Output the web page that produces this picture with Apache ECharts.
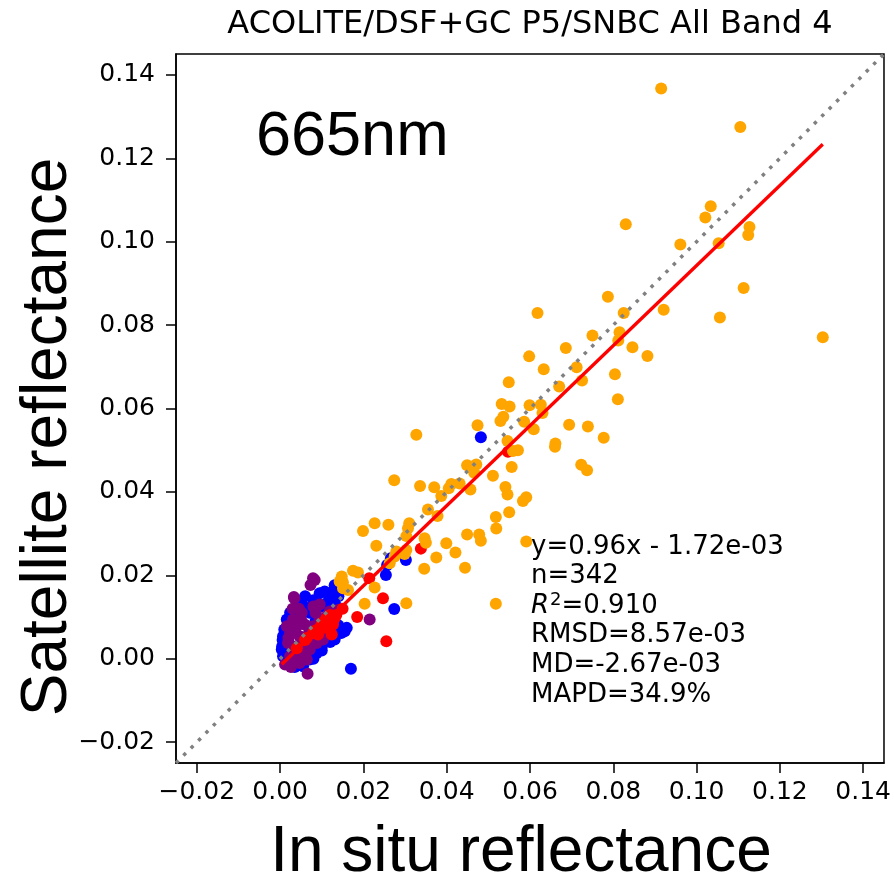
<!DOCTYPE html>
<html>
<head>
<meta charset="utf-8">
<script src="https://cdn.jsdelivr.net/npm/echarts@6/dist/echarts.min.js"></script>
<style>
  html, body { margin: 0; padding: 0; background: #fff; }
  #chart { width: 894px; height: 881px; }
</style>
</head>
<body>
<div id="chart"></div>
<script>
// in situ (x) vs satellite (y) reflectance, one array per colour group
const orangePoints = [
  [0.0915, 0.1367], [0.1105, 0.1275], [0.1034, 0.1085], [0.1021, 0.1058], [0.0830, 0.1042],
  [0.1127, 0.1035], [0.1124, 0.1016], [0.0961, 0.0993], [0.1053, 0.0996], [0.1113, 0.0889],
  [0.0787, 0.0868], [0.0825, 0.0829], [0.0921, 0.0837], [0.1056, 0.0818], [0.1303, 0.0771],
  [0.0750, 0.0775], [0.0815, 0.0783], [0.0812, 0.0763], [0.0846, 0.0747], [0.0882, 0.0726],
  [0.0686, 0.0745], [0.0618, 0.0829], [0.0598, 0.0725], [0.0633, 0.0694], [0.0712, 0.0699],
  [0.0725, 0.0667], [0.0670, 0.0653], [0.0549, 0.0663], [0.0804, 0.0682], [0.0811, 0.0622],
  [0.0532, 0.0611], [0.0551, 0.0605], [0.0599, 0.0608], [0.0626, 0.0609], [0.0630, 0.0589],
  [0.0536, 0.0580], [0.0529, 0.0570], [0.0586, 0.0568], [0.0609, 0.0550], [0.0694, 0.0561],
  [0.0739, 0.0557], [0.0777, 0.0530], [0.0474, 0.0560], [0.0546, 0.0522], [0.0661, 0.0516],
  [0.0660, 0.0508], [0.0559, 0.0498], [0.0571, 0.0500], [0.0556, 0.0460], [0.0723, 0.0465],
  [0.0737, 0.0452], [0.0471, 0.0466], [0.0511, 0.0439], [0.0541, 0.0412], [0.0327, 0.0537],
  [0.0449, 0.0464], [0.0466, 0.0446], [0.0457, 0.0406], [0.0274, 0.0428], [0.0336, 0.0414],
  [0.0370, 0.0411], [0.0387, 0.0390], [0.0405, 0.0409], [0.0411, 0.0419], [0.0431, 0.0420],
  [0.0546, 0.0394], [0.0583, 0.0378], [0.0591, 0.0387], [0.0550, 0.0351], [0.0518, 0.0340],
  [0.0519, 0.0312], [0.0355, 0.0358], [0.0378, 0.0342], [0.0449, 0.0298], [0.0478, 0.0298],
  [0.0482, 0.0283], [0.0591, 0.0281], [0.0199, 0.0306], [0.0227, 0.0325], [0.0260, 0.0321],
  [0.0310, 0.0325], [0.0307, 0.0313], [0.0303, 0.0294], [0.0347, 0.0289], [0.0350, 0.0278],
  [0.0231, 0.0271], [0.0399, 0.0277], [0.0421, 0.0255], [0.0375, 0.0243], [0.0444, 0.0218],
  [0.0346, 0.0216], [0.0303, 0.0261], [0.0299, 0.0251], [0.0279, 0.0257], [0.0275, 0.0245],
  [0.0263, 0.0229], [0.0175, 0.0211], [0.0187, 0.0207], [0.0148, 0.0197], [0.0151, 0.0183],
  [0.0143, 0.0185], [0.0151, 0.0169], [0.0163, 0.0165], [0.0227, 0.0171], [0.0203, 0.0132],
  [0.0303, 0.0133], [0.0518, 0.0132]
];
const bluePoints = [
  [0.0482, 0.0531], [0.0266, 0.0241], [0.0302, 0.0237], [0.0257, 0.0225], [0.0254, 0.0201],
  [0.0131, 0.0176], [0.0119, 0.0146], [0.0274, 0.0119], [0.0170, -0.0024], [0.0155, 0.0066],
  [0.0148, 0.0062], [0.0160, 0.0074], [0.0151, 0.0070], [0.0118, 0.0141], [0.0058, 0.0124],
  [0.0095, 0.0124], [0.0135, 0.0125], [0.0055, 0.0125], [0.0112, 0.0133], [0.0071, 0.0110],
  [0.0131, 0.0046], [0.0007, 0.0054], [0.0005, 0.0030], [0.0007, 0.0006], [0.0024, -0.0010],
  [0.0055, -0.0018], [0.0071, -0.0002], [0.0088, 0.0014], [0.0040, -0.0002], [0.0143, 0.0062],
  [0.0016, 0.0094], [0.0024, 0.0110], [0.0095, 0.0157], [0.0107, 0.0161], [0.0004, 0.0022],
  [0.0030, 0.0102], [0.0045, 0.0130], [0.0085, 0.0090], [0.0105, 0.0060], [0.0120, 0.0100],
  [0.0020, 0.0040], [0.0035, 0.0070], [0.0100, 0.0030], [0.0065, 0.0045], [0.0013, 0.0012],
  [0.0010, 0.0070], [0.0006, 0.0045], [0.0015, -0.0005], [0.0035, -0.0020], [0.0080, 0.0000],
  [0.0100, 0.0020], [0.0120, 0.0040], [0.0140, 0.0080], [0.0060, 0.0150], [0.0080, 0.0140],
  [0.0125, 0.0160], [0.0140, 0.0150]
];
const purplePoints = [
  [0.0083, 0.0189], [0.0079, 0.0193], [0.0073, 0.0177], [0.0034, 0.0145], [0.0033, 0.0148],
  [0.0215, 0.0094], [0.0066, -0.0036], [0.0031, 0.0094], [0.0040, 0.0078], [0.0024, 0.0062],
  [0.0019, 0.0038], [0.0031, 0.0018], [0.0036, -0.0002], [0.0055, 0.0014], [0.0071, 0.0022],
  [0.0088, 0.0038], [0.0103, 0.0046], [0.0047, 0.0054], [0.0079, 0.0078], [0.0095, 0.0094],
  [0.0059, 0.0082], [0.0016, 0.0078], [0.0052, 0.0110], [0.0103, 0.0070], [0.0067, 0.0034],
  [0.0024, 0.0006], [0.0047, -0.0010], [0.0012, -0.0014], [0.0064, -0.0002], [0.0119, 0.0113],
  [0.0139, 0.0117], [0.0085, 0.0110], [0.0110, 0.0100], [0.0040, 0.0030], [0.0030, 0.0120],
  [0.0050, 0.0095], [0.0070, 0.0065], [0.0090, 0.0050], [0.0020, 0.0050], [0.0030, 0.0000],
  [0.0060, 0.0010], [0.0110, 0.0060], [0.0080, 0.0125], [0.0095, 0.0130], [0.0045, 0.0120],
  [0.0026, -0.0020], [0.0055, 0.0040]
];
const redPoints = [
  [0.0338, 0.0264], [0.0214, 0.0193], [0.0247, 0.0145], [0.0185, 0.0100], [0.0255, 0.0042],
  [0.0547, 0.0496], [0.0115, 0.0089], [0.0107, 0.0074], [0.0127, 0.0082], [0.0124, 0.0058],
  [0.0079, 0.0062], [0.0064, 0.0050], [0.0095, 0.0074], [0.0091, 0.0058], [0.0110, 0.0095],
  [0.0120, 0.0105], [0.0100, 0.0085], [0.0130, 0.0095], [0.0060, 0.0045], [0.0085, 0.0068],
  [0.0105, 0.0080], [0.0118, 0.0092], [0.0135, 0.0105], [0.0040, 0.0025], [0.0150, 0.0120]
];

// regression fit and stats printed on the plot
const fitSlope = 0.96;
const fitIntercept = -0.00172;
const statLines = [
  'y=0.96x - 1.72e-03',
  'n=342',
  '{i|R}{sup|2}=0.910',
  'RMSD=8.57e-03',
  'MD=-2.67e-03',
  'MAPD=34.9%'
];

const axisMin = -0.025;
const axisMax = 0.145;
const tickValues = [-0.02, 0.00, 0.02, 0.04, 0.06, 0.08, 0.10, 0.12, 0.14];

const allX = [].concat(orangePoints, bluePoints, purplePoints, redPoints).map(p => p[0]);
const fitX0 = Math.min.apply(null, allX);
const fitX1 = Math.max.apply(null, allX);
const fitLine = [[fitX0, fitSlope * fitX0 + fitIntercept], [fitX1, fitSlope * fitX1 + fitIntercept]];

const tickFmt = v => (v < -1e-9 ? '\u2212' : '') + Math.abs(v).toFixed(2);
const TICK_FONT = 'DejaVu Sans';

function makeAxis(isX) {
  return {
    type: 'value',
    min: axisMin,
    max: axisMax,
    axisLine: { show: true, onZero: false, lineStyle: { color: '#000', width: 1.5 } },
    axisTick: { show: true, customValues: tickValues, length: 10, lineStyle: { color: '#000', width: 1.5 } },
    axisLabel: {
      show: true,
      customValues: tickValues,
      formatter: tickFmt,
      color: '#000',
      fontSize: 25,
      fontFamily: TICK_FONT,
      margin: isX ? 17 : 21
    },
    splitLine: { show: false }
  };
}

function scatter(name, data, color) {
  return {
    name: name,
    type: 'scatter',
    data: data,
    symbolSize: 12,
    itemStyle: { color: color, opacity: 1 },
    silent: true
  };
}

const chart = echarts.init(document.getElementById('chart'), null, { renderer: 'canvas' });

chart.setOption({
  animation: false,
  backgroundColor: '#fff',
  grid: { left: 176, top: 54, width: 709, height: 709, show: true, borderColor: '#000', borderWidth: 1.5 },
  xAxis: makeAxis(true),
  yAxis: makeAxis(false),
  series: [
    scatter('blue', bluePoints, '#0000ff'),
    scatter('purple', purplePoints, '#800080'),
    scatter('red', redPoints, '#ff0000'),
    scatter('orange', orangePoints, '#ffa500'),
    {
      name: '1:1',
      type: 'line',
      data: [[axisMin, axisMin], [axisMax, axisMax]],
      showSymbol: false,
      lineStyle: { color: '#808080', width: 3.5, type: [3.5, 7] },
      silent: true
    },
    {
      name: 'fit',
      type: 'line',
      data: fitLine,
      showSymbol: false,
      lineStyle: { color: '#ff0000', width: 3.3 },
      silent: true
    }
  ],
  graphic: [
    {
      type: 'text', x: 530, y: 25,
      style: { text: 'ACOLITE/DSF+GC P5/SNBC All Band 4', font: '32px "DejaVu Sans"', fill: '#000',
        align: 'center', verticalAlign: 'middle', textAlign: 'center', textVerticalAlign: 'middle' }
    },
    {
      type: 'text', x: 256, y: 138, z: 10,
      style: { text: '665nm', font: '63px "Liberation Sans"', fill: '#000',
        align: 'left', verticalAlign: 'middle', textAlign: 'left', textVerticalAlign: 'middle' }
    },
    {
      type: 'text', x: 48, y: 437, rotation: Math.PI / 2,
      style: { text: 'Satellite reflectance', font: '64px "Liberation Sans"', fill: '#000',
        align: 'center', verticalAlign: 'middle', textAlign: 'center', textVerticalAlign: 'middle' }
    },
    {
      type: 'text', x: 521, y: 853,
      style: { text: 'In situ reflectance', font: '64px "Liberation Sans"', fill: '#000',
        align: 'center', verticalAlign: 'middle', textAlign: 'center', textVerticalAlign: 'middle' }
    },
    {
      type: 'text', x: 531, y: 532, z: 10,
      style: {
        text: statLines.join('\n'),
        font: '26px "DejaVu Sans"',
        lineHeight: 29.6,
        fill: '#000',
        align: 'left', verticalAlign: 'top', textAlign: 'left', textVerticalAlign: 'top',
        rich: {
          i: { fontStyle: 'italic', fontSize: 26, fontFamily: 'DejaVu Sans', lineHeight: 29.6 },
          sup: { fontSize: 18, fontFamily: 'DejaVu Sans', verticalAlign: 'top', lineHeight: 29.6, padding: [0, 0, 6, 1] }
        }
      }
    }
  ]
});
</script>
</body>
</html>
